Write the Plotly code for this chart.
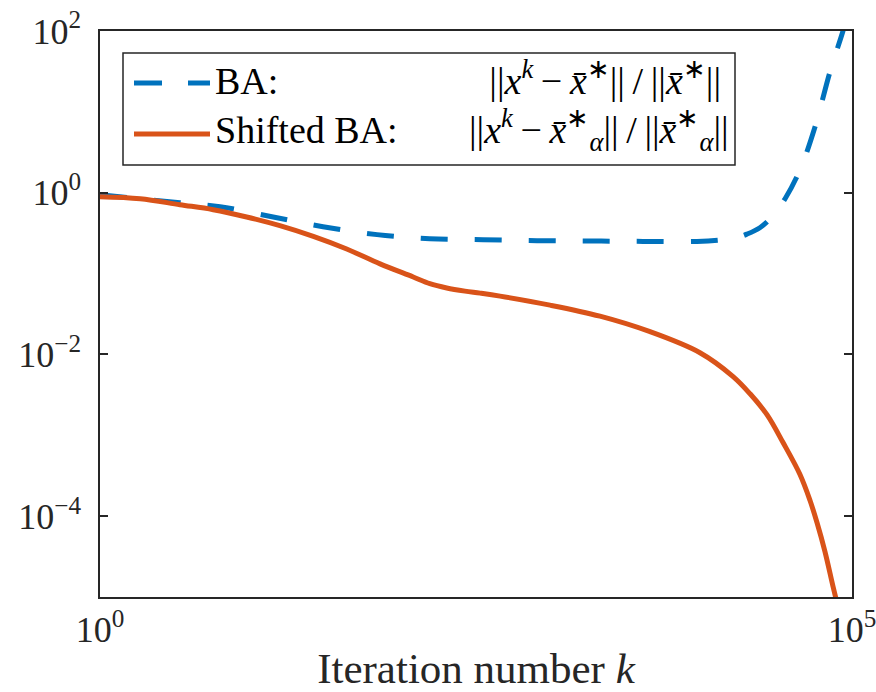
import plotly.graph_objects as go

# ---- data ----
ba_k = [1, 3.40, 6.28, 13.9, 30.4, 69.5, 156, 352, 805, 1810, 4080, 9310,
        13250, 16700, 20000, 24400, 29400, 35900, 45100, 56800, 71400, 87100, 91200]
ba_err = [0.944, 0.752, 0.671, 0.505, 0.380, 0.303, 0.270, 0.262, 0.255, 0.253,
          0.250, 0.250, 0.259, 0.274, 0.307, 0.369, 0.505, 0.843, 1.92, 6.54, 31.3, 100, 137]

sba_k = [1, 1.85, 3.40, 5.66, 9.44, 15.7, 26.2, 43.7, 72.8, 121, 156, 202, 267, 337, 457,
         982, 2110, 4540, 9750, 16200, 21000, 27200, 34800, 45100, 52600, 58500, 66100, 74800, 82000]
sba_err = [0.893, 0.843, 0.711, 0.617, 0.501, 0.391, 0.288, 0.201, 0.132, 0.0908, 0.0750,
           0.0664, 0.0607, 0.0573, 0.0526, 0.0407, 0.0297, 0.0191, 0.0105, 0.00532, 0.00326,
           0.00180, 8.13e-4, 3.27e-4, 1.56e-4, 8.34e-5, 3.65e-5, 1.35e-5, 6.62e-6]

x_tickvals = [1, 1e5]
x_ticktext = ["10<sup>0</sup>", "10<sup>5</sup>"]
y_tickvals = [1e-4, 1e-2, 1, 1e2]
y_ticktext = ["10<sup>−4</sup>", "10<sup>−2</sup>", "10<sup>0</sup>", "10<sup>2</sup>"]

names = ["BA:", "Shifted BA:"]
exprs = ["||<i>x</i><sup><i>k</i></sup>\u2009−\u2009<i>x̄</i><sup>∗</sup>||\u2009/\u2009||<i>x̄</i><sup>∗</sup>||\u2009",
         "||<i>x</i><sup><i>k</i></sup>\u2009−\u2009<i>x̄</i><sup>∗</sup><sub><i>α</i></sub>||\u2009/\u2009||<i>x̄</i><sup>∗</sup><sub><i>α</i></sub>||"]

BLUE = "#0072BD"
RED = "#D95319"
AX = "#262626"
FONT = "Liberation Serif"

W, H = 876, 692
L, R, T, B = 100, 852, 31, 597


def px(x):
    return (x - L) / (R - L)


def py(y):
    return (B - y) / (B - T)


fig = go.Figure()
fig.add_trace(go.Scatter(x=ba_k, y=ba_err, mode="lines", name=names[0],
                         line=dict(color=BLUE, width=5, dash="27px,27px", shape="spline", smoothing=1.0),
                         showlegend=False))
fig.add_trace(go.Scatter(x=sba_k, y=sba_err, mode="lines", name=names[1],
                         line=dict(color=RED, width=5, shape="spline", smoothing=1.0),
                         showlegend=False))

# custom legend box
shapes = [
    dict(type="rect", xref="paper", yref="paper", x0=px(123), x1=px(735), y0=py(165), y1=py(53),
         line=dict(color=AX, width=1.5), fillcolor="white", layer="above"),
    dict(type="line", xref="paper", yref="paper", x0=px(134), x1=px(210), y0=py(83), y1=py(83),
         line=dict(color=BLUE, width=5, dash="28px,26px"), layer="above"),
    dict(type="line", xref="paper", yref="paper", x0=px(134), x1=px(210), y0=py(134), y1=py(134),
         line=dict(color=RED, width=5), layer="above"),
]
annots = [
    dict(text="<br>".join(names), x=px(213), y=py(105), xref="paper", yref="paper",
         xanchor="left", yanchor="middle", align="left",
         showarrow=False, font=dict(family=FONT, size=38, color="black")),
    dict(text="<br>".join(exprs), x=px(731), y=py(105), xref="paper", yref="paper",
         xanchor="right", yanchor="middle", align="right",
         showarrow=False, font=dict(family=FONT, size=38, color="black")),
]

fig.update_layout(
    width=W, height=H,
    margin=dict(l=L, r=W - R, t=T, b=H - B, pad=0),
    paper_bgcolor="white", plot_bgcolor="white",
    font=dict(family=FONT, color=AX),
    shapes=shapes, annotations=annots,
    showlegend=False,
)
fig.update_xaxes(type="log", range=[0, 5], tickvals=x_tickvals, ticktext=x_ticktext, automargin=False,
                 ticklabeloverflow="allow",
                 showgrid=False, zeroline=False, showline=True, linecolor=AX, linewidth=1.5,
                 mirror="allticks", ticks="inside", ticklen=8, tickcolor=AX, tickwidth=1.5,
                 tickfont=dict(family=FONT, size=36, color=AX),
                 title=dict(text="Iteration number <i>k</i>", font=dict(family=FONT, size=43, color=AX), standoff=4))
fig.update_yaxes(type="log", range=[-5, 2], tickvals=y_tickvals, ticktext=y_ticktext, automargin=False,
                 ticklabeloverflow="allow",
                 showgrid=False, zeroline=False, showline=True, linecolor=AX, linewidth=1.5,
                 mirror="allticks", ticks="inside", ticklen=8, tickcolor=AX, tickwidth=1.5,
                 tickfont=dict(family=FONT, size=36, color=AX), ticklabelstandoff=10)

fig.write_html("out.html")
